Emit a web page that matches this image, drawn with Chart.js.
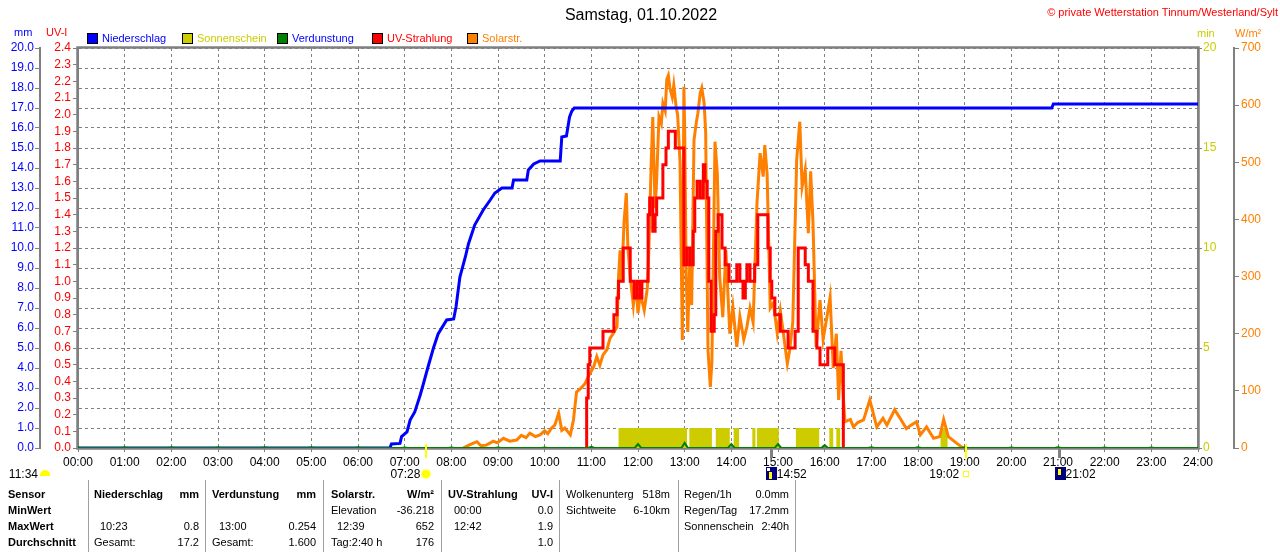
<!DOCTYPE html>
<html>
<head>
<meta charset="utf-8">
<script src="https://cdn.jsdelivr.net/npm/chart.js"></script>
<style>
html,body{margin:0;padding:0;background:#fff;}
#wrap{position:relative;width:1280px;height:552px;overflow:hidden;font-family:"Liberation Sans",Arial,sans-serif;background:#fff;}
#c{position:absolute;left:0;top:0;}
.t{position:absolute;white-space:nowrap;font-size:11px;line-height:11px;color:#000;}
.b{font-weight:bold;}
.box{position:absolute;width:9px;height:9px;border:1px solid #000;}
.sep{position:absolute;top:480px;width:1px;height:72px;background:#a0a0a0;}
.ico{position:absolute;}
</style>
</head>
<body>
<div id="wrap">
<canvas id="c" width="1280" height="480" style="width:1280px;height:480px"></canvas>
</div>
<script>
// ---------- data ----------
const hourLabels = ["00:00","01:00","02:00","03:00","04:00","05:00","06:00","07:00","08:00","09:00","10:00","11:00","12:00","13:00","14:00","15:00","16:00","17:00","18:00","19:00","20:00","21:00","22:00","23:00","24:00"];

// Niederschlag (cumulative, mm)
const rainTime = ["00:00","06:41","06:43","06:54","06:56","07:03","07:07","07:13","07:20","07:24","07:30","07:37","07:43","07:54","08:03","08:06","08:11","08:18","08:22","08:30","08:41","08:50","08:56","09:05","09:18","09:20","09:37","09:39","09:46","09:54","10:20","10:22","10:28","10:32","10:35","10:38","20:52","20:54","24:00"];
const rainMm   = [0,0,0.2,0.23,0.57,0.8,1.4,1.8,2.65,3.2,4.05,5.0,5.7,6.4,6.45,7.05,8.55,9.55,10.2,11.15,11.9,12.4,12.75,13.0,13.0,13.4,13.4,13.9,14.2,14.35,14.35,15.55,15.6,16.55,16.85,17.0,17.0,17.2,17.2];

// UV-Strahlung (UV-I), value holds until next time
const uvTime  = ["10:53","10:54","10:56","10:58","11:15","11:29","11:33","11:35","11:41","11:50","11:55","11:59","12:03","12:05","12:13","12:15","12:19","12:22","12:24","12:32","12:36","12:39","12:48","12:59","13:03","13:07","13:11","13:13","13:16","13:20","13:24","13:26","13:29","13:31","13:34","13:38","13:40","13:43","13:48","13:52","13:57","14:07","14:11","14:15","14:18","14:20","14:24","14:30","14:34","14:47","14:50","14:52","14:56","15:03","15:13","15:22","15:26","15:35","15:39","15:45","15:50","15:54","16:04","16:13","16:24"];
const uvIndex = [0,0.3,0.5,0.6,0.7,0.8,0.9,1.0,1.2,1.0,0.9,1.0,0.9,1.0,1.4,1.5,1.3,1.4,1.5,1.7,1.8,1.9,1.8,1.1,1.2,1.1,1.3,1.5,1.6,1.5,1.7,1.6,1.5,1.0,0.7,0.8,1.3,1.4,1.2,1.1,1.0,1.1,1.0,0.9,1.0,1.1,1.0,1.1,1.4,1.2,1.0,0.9,0.8,0.7,0.6,0.7,1.2,1.1,1.0,0.7,0.6,0.5,0.6,0.5,0];

// Solarstrahlung (W/m²)
const solarTime = ["08:15","08:24","08:33","08:38","08:45","08:54","08:59","09:07","09:15","09:24","09:30","09:36","09:41","09:48","09:54","10:00","10:04","10:09","10:13","10:18","10:22","10:26","10:33","10:37","10:41","10:47","10:52","10:56","11:03","11:07","11:11","11:15","11:20","11:24","11:28","11:33","11:35","11:37","11:39","11:42","11:45","11:47","11:50","11:54","11:57","12:00","12:03","12:08","12:12","12:14","12:17","12:19","12:22","12:24","12:27","12:30","12:32","12:35","12:37","12:39","12:41","12:44","12:46","12:49","12:51","12:54","12:57","12:59","13:00","13:02","13:04","13:07","13:09","13:12","13:15","13:17","13:20","13:22","13:25","13:27","13:30","13:33","13:35","13:39","13:42","13:45","13:49","13:53","13:58","14:02","14:07","14:11","14:16","14:20","14:24","14:28","14:33","14:37","14:41","14:43","14:46","14:50","14:54","14:59","15:03","15:06","15:12","15:15","15:19","15:24","15:28","15:31","15:35","15:39","15:42","15:45","15:49","15:54","15:58","16:03","16:07","16:11","16:15","16:18","16:21","16:24","16:26","16:33","16:37","16:43","16:50","16:58","17:07","17:15","17:20","17:30","17:37","17:45","17:51","17:58","18:03","18:11","18:20","18:28","18:33","18:39","18:50","18:56","18:58"];
const solarW    = [0,6,11,4,5,12,9,17,12,14,22,18,26,20,23,30,25,35,40,61,31,35,23,49,98,105,113,125,142,160,145,163,172,192,200,212,300,346,290,394,446,351,300,250,290,236,270,241,280,350,500,579,420,469,580,568,603,590,645,652,630,614,635,597,583,500,189,632,560,300,203,346,250,539,570,586,621,630,604,553,171,107,150,536,480,300,229,346,200,247,177,230,190,212,245,220,429,516,475,530,480,245,254,201,240,210,148,171,220,504,571,457,487,376,484,394,177,259,190,230,264,140,200,84,170,90,46,50,37,45,49,84,37,52,40,67,52,34,40,46,23,37,17,20,50,20,8,2,0];

// Verdunstung (mm per hour)
const evapHour = ["00:00","01:00","02:00","03:00","04:00","05:00","06:00","07:00","08:00","09:00","10:00","11:00","12:00","13:00","14:00","15:00","16:00","17:00","18:00","19:00","20:00","21:00","22:00","23:00"];
const evapMm   = [0.02,0.03,0.03,0.03,0.03,0.03,0.03,0.03,0.03,0.03,0.03,0.06,0.2,0.254,0.2,0.2,0.15,0.04,0.04,0.04,0.02,0.04,0.03,0.02];

// Sonnenschein (min)
const sunStart = ["11:35","13:06","13:40","14:03","14:27","14:33","15:23","16:06","16:15","18:29"];
const sunEnd   = ["13:03","13:35","13:58","14:10","14:31","15:01","15:53","16:11","16:20","18:38"];
const sunMin   = [1,1,1,1,1,1,1,1,1,1];

// Astronomical markers
const sunRise = "07:28", sunSet = "19:02", moonRise = "14:52", moonSet = "21:02", dayLength = "11:34";

// ---------- helpers ----------
const toH = s => { const p = s.split(':').map(Number); return p[0] + p[1] / 60; };
const pts = (t, v) => t.map((s, i) => ({x: toH(s), y: v[i]}));
const FONT = '"Liberation Sans", Arial, sans-serif';

const sunPts = [{x: 0, y: 0}];
sunStart.forEach((s, i) => { sunPts.push({x: toH(s), y: sunMin[i]}); sunPts.push({x: toH(sunEnd[i]), y: 0}); });
sunPts.push({x: 24, y: 0});

const evapPts = [{x: 0, y: 0}];
evapHour.forEach((s, i) => {
  const h = toH(s);
  if (h > 0) evapPts.push({x: h - 0.07, y: 0});
  evapPts.push({x: h, y: evapMm[i]});
  evapPts.push({x: h + 0.07, y: 0});
});
evapPts.push({x: 24, y: 0});

// ---------- plugins ----------
const framePlugin = {
  id: 'frame',
  beforeDatasetsDraw(chart) {
    const {ctx, chartArea: a} = chart;
    ctx.save();
    ctx.strokeStyle = '#808080';
    ctx.lineWidth = 2.5;
    ctx.strokeRect(a.left - 0.5, a.top - 0.5, a.right - a.left + 1, a.bottom - a.top + 1);
    ctx.restore();
  },
  afterDraw(chart) {
    const {ctx, scales: {x}, chartArea: a} = chart;
    ctx.save();
    const mark = (t, col, w, y1, y2) => {
      const px = x.getPixelForValue(toH(t));
      ctx.fillStyle = col;
      ctx.fillRect(Math.round(px - w / 2), y1, w, y2 - y1);
    };
    mark(sunRise, '#ffff00', 2, a.bottom - 4, a.bottom + 10);
    mark(sunSet, '#ffff00', 2, a.bottom - 4, a.bottom + 10);
    mark(moonRise, '#808080', 3, a.bottom, a.bottom + 10);
    mark(moonSet, '#808080', 3, a.bottom, a.bottom + 10);
    ctx.restore();
  }
};

// ---------- chart ----------
const tickFont = {family: FONT, size: 12};
const chart = new Chart(document.getElementById('c'), {
  type: 'line',
  data: {
    datasets: [
      {label: 'Niederschlag', data: pts(rainTime, rainMm), yAxisID: 'yMm', borderColor: '#0000ff', borderWidth: 3, pointRadius: 0, order: 0},
      {label: 'UV-Strahlung', data: pts(uvTime, uvIndex), yAxisID: 'yUv', borderColor: '#ff0000', borderWidth: 3, stepped: true, pointRadius: 0, order: 1},
      {label: 'Solarstr.', data: pts(solarTime, solarW), yAxisID: 'yW', borderColor: '#ff8000', borderWidth: 3, pointRadius: 0, order: 2},
      {label: 'Verdunstung', data: evapPts, yAxisID: 'yMm', borderColor: '#008000', borderWidth: 2, pointRadius: 0, order: -1},
      {label: 'Sonnenschein', data: sunPts, yAxisID: 'yMin', borderColor: '#cccc00', borderWidth: 0, backgroundColor: '#cccc00', fill: 'origin', stepped: true, pointRadius: 0, order: 4}
    ]
  },
  options: {
    responsive: false,
    animation: false,
    devicePixelRatio: 1,
    layout: {padding: {top: 48, left: 0, right: 0, bottom: 0}},
    plugins: {legend: {display: false}, tooltip: {enabled: false}, title: {display: false}},
    elements: {line: {tension: 0, borderJoinStyle: 'miter', borderCapStyle: 'butt'}},
    scales: {
      x: {
        type: 'linear', position: 'bottom', min: 0, max: 24,
        afterFit(s) { s.height = 32; },
        ticks: {stepSize: 1, autoSkip: false, maxRotation: 0, color: '#000', font: tickFont, padding: 3,
          callback: (v) => hourLabels[Math.round(v)]},
        grid: {color: '#808080', lineWidth: 1, drawTicks: true, tickLength: 4, tickColor: '#808080', tickBorderDash: []},
        border: {display: true, color: '#808080', width: 2, dash: [3, 3]}
      },
      yMm: {
        type: 'linear', position: 'left', weight: 1, min: 0, max: 20,
        afterFit(s) { s.width = 40; },
        ticks: {stepSize: 1, autoSkip: false, color: '#0000ff', font: tickFont, padding: 1, callback: v => v.toFixed(1)},
        grid: {drawOnChartArea: true, color: '#808080', lineWidth: 1, tickLength: 5, tickColor: '#808080', tickBorderDash: []},
        border: {display: true, color: '#808080', width: 2, dash: [3, 3]}
      },
      yUv: {
        type: 'linear', position: 'left', weight: 0, min: 0, max: 2.4,
        afterFit(s) { s.width = 38; },
        ticks: {stepSize: 0.1, autoSkip: false, color: '#ff0000', font: tickFont, padding: 2, callback: v => v.toFixed(1)},
        grid: {drawOnChartArea: false, tickLength: 5, tickColor: '#808080', tickBorderDash: []},
        border: {display: true, color: '#808080', width: 2}
      },
      yMin: {
        type: 'linear', position: 'right', weight: 0, min: 0, max: 20,
        afterFit(s) { s.width = 36; },
        ticks: {stepSize: 5, autoSkip: false, color: '#cccc00', font: tickFont, padding: 1},
        grid: {drawOnChartArea: false, tickLength: 4, tickColor: '#808080', tickBorderDash: []},
        border: {display: true, color: '#808080', width: 2}
      },
      yW: {
        type: 'linear', position: 'right', weight: 1, min: 0, max: 700,
        afterFit(s) { s.width = 46; },
        ticks: {stepSize: 100, autoSkip: false, color: '#ff8000', font: tickFont, padding: 2},
        grid: {drawOnChartArea: false, tickLength: 5, tickColor: '#808080', tickBorderDash: []},
        border: {display: true, color: '#808080', width: 2}
      }
    }
  },
  plugins: [framePlugin]
});

// ---------- HTML text (title, legend, units, markers, table) ----------
const wrap = document.getElementById('wrap');
function txt(s, x, yc, opt) {
  opt = opt || {};
  const d = document.createElement('div');
  d.className = 't' + (opt.bold ? ' b' : '');
  const fs = opt.size || 11;
  d.style.fontSize = fs + 'px';
  d.style.lineHeight = fs + 'px';
  d.style.top = (yc - fs * 0.49) + 'px';
  if (opt.color) d.style.color = opt.color;
  if (opt.align === 'r') d.style.right = (1280 - x) + 'px';
  else if (opt.align === 'c') { d.style.left = (x - 300) + 'px'; d.style.width = '600px'; d.style.textAlign = 'center'; }
  else d.style.left = x + 'px';
  d.textContent = s;
  wrap.appendChild(d);
  return d;
}
function el(cls, css) {
  const d = document.createElement('div');
  d.className = cls;
  Object.assign(d.style, css);
  wrap.appendChild(d);
  return d;
}

txt('Samstag, 01.10.2022', 641, 15, {size: 16, align: 'c'});
txt('© private Wetterstation Tinnum/Westerland/Sylt', 1278, 12, {color: '#ff0000', align: 'r'});

txt('mm', 14, 32, {color: '#0000ff'});
txt('UV-I', 46, 32, {color: '#ff0000'});
txt('min', 1197, 33, {color: '#cccc00'});
txt('W/m²', 1235, 33, {color: '#ff8000'});

const legendItems = [
  ['Niederschlag', '#0000ff', '#0000ff', 87],
  ['Sonnenschein', '#cccc00', '#cccc00', 182],
  ['Verdunstung', '#008000', '#0000ff', 277],
  ['UV-Strahlung', '#ff0000', '#ff0000', 372],
  ['Solarstr.', '#ff8000', '#ff8000', 467]
];
legendItems.forEach(([name, boxCol, txtCol, x]) => {
  el('box', {left: x + 'px', top: '33px', background: boxCol});
  txt(name, x + 15, 38.5, {color: txtCol});
});

// marker row
const xs = chart.scales.x;
const px = t => xs.getPixelForValue(toH(t));
const rowY = 474;
txt(dayLength, 38, rowY, {size: 12, align: 'r'});
el('ico', {left: '40px', top: '470px', width: '10px', height: '6px', background: '#ffff00', borderRadius: '5px 5px 0 0'});
txt(sunRise, px(sunRise) - 6, rowY, {size: 12, align: 'r'});
el('ico', {left: (px(sunRise) - 4) + 'px', top: '470px', width: '8px', height: '8px', background: '#ffff00', borderRadius: '50%', boxShadow: '0 0 2px 1px #ffff80'});
el('ico', {left: (px(moonRise) - 6) + 'px', top: '467px', width: '11px', height: '13px', background: '#000080'});
el('ico', {left: (px(moonRise) - 3) + 'px', top: '472px', width: '3px', height: '7px', background: '#ffff00'});
el('ico', {left: (px(moonRise) - 5) + 'px', top: '468px', width: '3px', height: '3px', background: '#ffffff'});
txt(moonRise, px(moonRise) + 5, rowY, {size: 12});
txt(sunSet, px(sunSet) - 7, rowY, {size: 12, align: 'r'});
el('ico', {left: (px(sunSet) - 3) + 'px', top: '471px', width: '4px', height: '4px', border: '1px solid #ffff00'});
el('ico', {left: (px(moonSet) - 5) + 'px', top: '467px', width: '11px', height: '13px', background: '#000080'});
el('ico', {left: (px(moonSet) - 2) + 'px', top: '469px', width: '3px', height: '6px', background: '#ffff00'});
txt(moonSet, px(moonSet) + 6, rowY, {size: 12});

// table
[88, 205, 323, 441, 559, 678, 795].forEach(x => el('sep', {left: x + 'px'}));
const rowsY = [494, 510, 526, 542];
const table = [
  ['Sensor', 8, 0, 'l', 1], ['Niederschlag', 94, 0, 'l', 1], ['mm', 199, 0, 'r', 1],
  ['Verdunstung', 212, 0, 'l', 1], ['mm', 316, 0, 'r', 1],
  ['Solarstr.', 331, 0, 'l', 1], ['W/m²', 434, 0, 'r', 1],
  ['UV-Strahlung', 448, 0, 'l', 1], ['UV-I', 553, 0, 'r', 1],
  ['Wolkenunterg', 566, 0, 'l', 0], ['518m', 670, 0, 'r', 0],
  ['Regen/1h', 684, 0, 'l', 0], ['0.0mm', 789, 0, 'r', 0],
  ['MinWert', 8, 1, 'l', 1], ['Elevation', 331, 1, 'l', 0], ['-36.218', 434, 1, 'r', 0],
  ['00:00', 454, 1, 'l', 0], ['0.0', 553, 1, 'r', 0],
  ['Sichtweite', 566, 1, 'l', 0], ['6-10km', 670, 1, 'r', 0],
  ['Regen/Tag', 684, 1, 'l', 0], ['17.2mm', 789, 1, 'r', 0],
  ['MaxWert', 8, 2, 'l', 1], ['10:23', 100, 2, 'l', 0], ['0.8', 199, 2, 'r', 0],
  ['13:00', 219, 2, 'l', 0], ['0.254', 316, 2, 'r', 0],
  ['12:39', 337, 2, 'l', 0], ['652', 434, 2, 'r', 0],
  ['12:42', 454, 2, 'l', 0], ['1.9', 553, 2, 'r', 0],
  ['Sonnenschein', 684, 2, 'l', 0], ['2:40h', 789, 2, 'r', 0],
  ['Durchschnitt', 8, 3, 'l', 1], ['Gesamt:', 94, 3, 'l', 0], ['17.2', 199, 3, 'r', 0],
  ['Gesamt:', 212, 3, 'l', 0], ['1.600', 316, 3, 'r', 0],
  ['Tag:2:40 h', 331, 3, 'l', 0], ['176', 434, 3, 'r', 0],
  ['1.0', 553, 3, 'r', 0]
];
table.forEach(([s, x, r, a, b]) => txt(s, x, rowsY[r], {align: a, bold: !!b}));
</script>
</body>
</html>
